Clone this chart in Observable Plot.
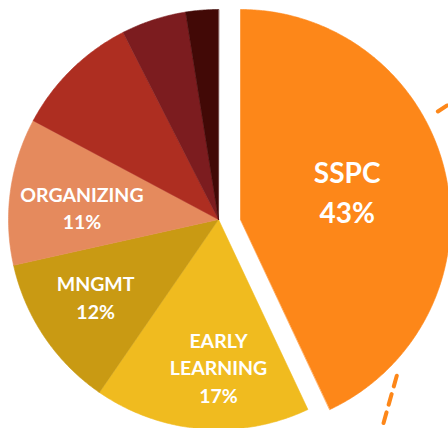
<!DOCTYPE html>
<html><head><meta charset="utf-8">
<script src="https://cdn.jsdelivr.net/npm/d3@7"></script>
<script src="https://cdn.jsdelivr.net/npm/@observablehq/plot@0.6"></script>
<style>html,body{margin:0;padding:0;background:#fff;overflow:hidden}</style>
</head><body><div id="chart"></div>
<script>
// Data
const categories = ["SSPC", "EARLY LEARNING", "MNGMT", "ORGANIZING", "OTHER 1", "OTHER 2", "OTHER 3"];
const shares = [43, 16.6, 11.9, 11.3, 9.7, 5, 2.5];
const shareLabels = ["43%", "17%", "12%", "11%", "", "", ""];
const colors = ["#FD8719", "#F0BB1F", "#C99A13", "#E58A5D", "#AE2E21", "#7C1C1F", "#420906"];
const showLabel = [true, true, true, true, false, false, false];

// Layout (chart units)
const W = 448, H = 428;
const cx = 218, cy = 219, R = 210;
const explode = {SSPC: [22, 0]};
// label placement: [angle deg from top clockwise, radius]
const labelPos = {
  "SSPC": [75.8, 110],
  "EARLY LEARNING": [180, 149],
  "MNGMT": [237.3, 146],
  "ORGANIZING": [274.6, 137]
};
// leader callouts from the SSPC slice: [angle, r] start/end
const leaders = [
  {id: "top", pts: [[61.3, 225], [60.7, 264]]},
  {id: "bottom", pts: [[135, 221], [149.7, 268]]}
];

const rad = a => a * Math.PI / 180;
const total = d3.sum(shares);
let acc = 0;
const slices = categories.map((c, i) => {
  const a0 = acc / total * 360; acc += shares[i];
  const a1 = acc / total * 360;
  const [dx, dy] = explode[c] || [0, 0];
  return {c, label: shareLabels[i], color: colors[i], a0, a1, ox: cx + dx, oy: cy + dy, show: showLabel[i]};
});

const polys = [];
for (const s of slices) {
  polys.push({c: s.c, color: s.color, x: s.ox, y: s.oy});
  const n = Math.max(4, Math.ceil((s.a1 - s.a0) * 2));
  for (let k = 0; k <= n; k++) {
    const a = rad(s.a0 + (s.a1 - s.a0) * k / n);
    polys.push({c: s.c, color: s.color, x: s.ox + R * Math.sin(a), y: s.oy - R * Math.cos(a)});
  }
}

const labels = slices.filter(s => s.show).map(s => {
  const [a, r] = labelPos[s.c];
  return {
    text: s.c.replace(" ", "\n") + "\n" + s.label,
    x: s.ox + r * Math.sin(rad(a)),
    y: s.oy - r * Math.cos(rad(a)),
    big: s.c === "SSPC"
  };
});

const sspc = slices[0];
const leaderPts = leaders.flatMap(l => l.pts.map(([a, r]) => ({id: l.id, x: sspc.ox + r * Math.sin(rad(a)), y: sspc.oy - r * Math.cos(rad(a))})));

const chart = Plot.plot({
  width: W, height: H,
  margin: 0,
  x: {domain: [0, W], range: [0, W], axis: null},
  y: {domain: [0, H], range: [0, H], axis: null},
  color: {type: "identity"},
  marks: [
    Plot.line(polys, {x: "x", y: "y", z: "c", fill: "color", stroke: "color", strokeWidth: 0.6, curve: "linear-closed"}),
    Plot.line(leaderPts, {x: "x", y: "y", z: "id", stroke: "#FD8719", strokeWidth: 4, strokeDasharray: "11,8", strokeLinecap: "round"}),
    Plot.text(labels.filter(d => d.big), {x: "x", y: "y", dy: -2, text: "text", fill: "white", fontSize: 28, fontWeight: 700, fontFamily: "Lato", lineHeight: 1.43}),
    Plot.text(labels.filter(d => !d.big), {x: "x", y: "y", dy: -2, text: "text", fill: "white", fontSize: 19.5, fontWeight: 700, fontFamily: "Lato", lineHeight: 1.42})
  ]
});
document.getElementById("chart").appendChild(chart);
</script>
</body></html>
